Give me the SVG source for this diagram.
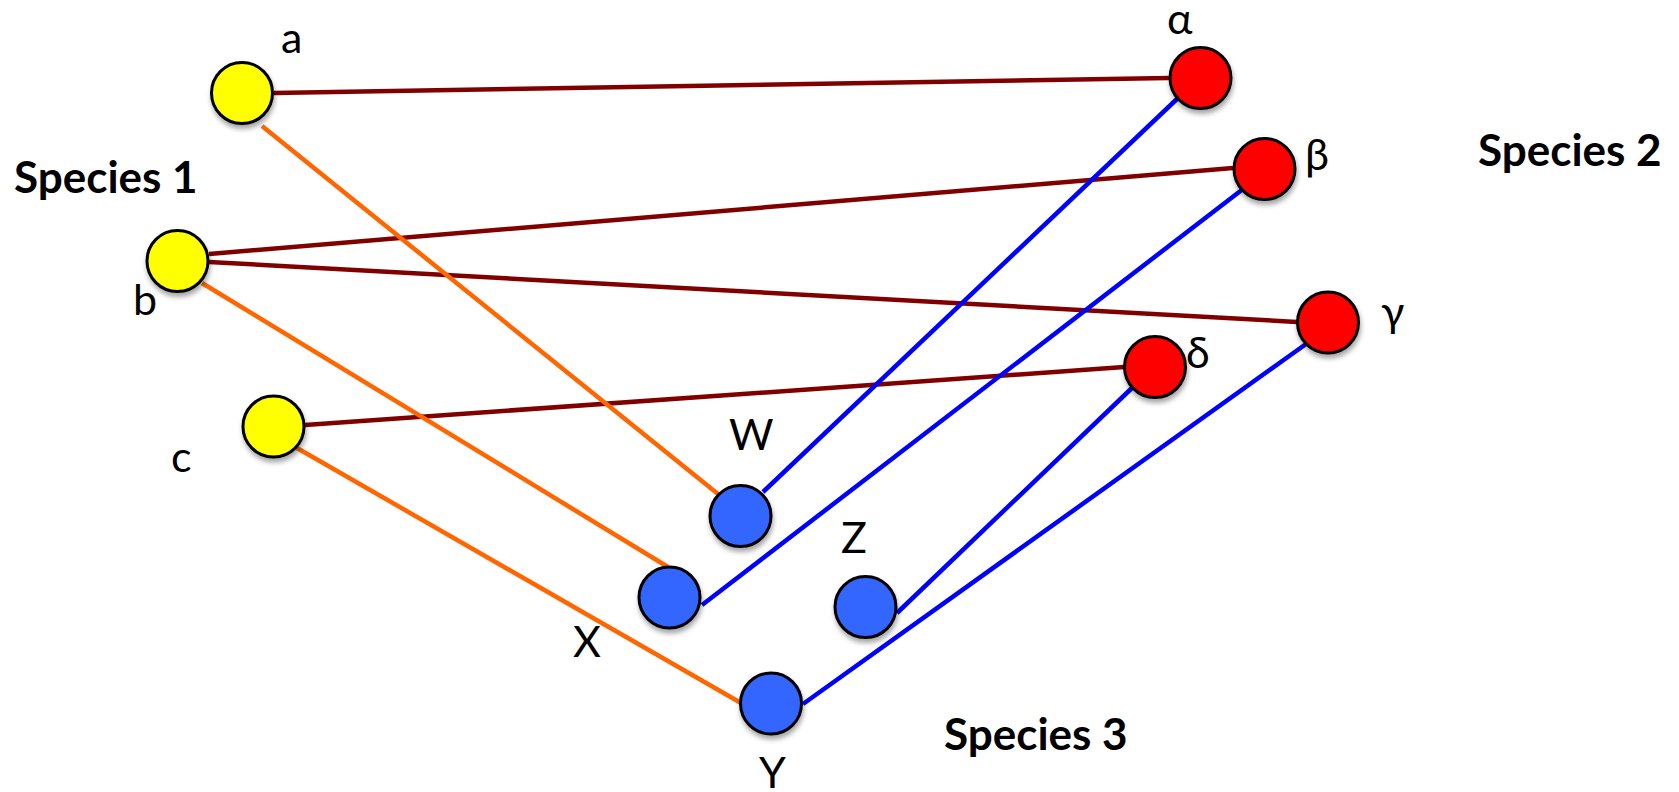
<svg xmlns="http://www.w3.org/2000/svg" width="1679" height="792" viewBox="0 0 1679 792">
  <defs>
    <filter id="shadow" x="-30%" y="-30%" width="160%" height="170%">
      <feDropShadow dx="1" dy="4" stdDeviation="2.5" flood-color="#000" flood-opacity="0.35"/>
    </filter>
  </defs>
  <style>
    .node { stroke: #000; stroke-width: 3; filter: url(#shadow); }
    .s1 { fill: #FFFF00; }
    .s2 { fill: #FF0000; }
    .s3 { fill: #3366FF; }
    .lbl { font-family: Lato, "Liberation Sans", sans-serif; font-size: 43px; fill: #000; }
    .title { font-family: Lato, "Liberation Sans", sans-serif; font-size: 44px; font-weight: bold; fill: #000; }
    .edge { fill: none; stroke-width: 4.5; stroke-linecap: butt; }
    .e12 { stroke: #800000; }
    .e13 { stroke: #FF6600; }
    .e23 { stroke: #0000FF; }
  </style>

  <!-- connectors -->
  <g id="connectors">
    <line class="edge e12" x1="274" y1="93" x2="1169" y2="78"/>
    <line class="edge e12" x1="209" y1="254" x2="1233" y2="168"/>
    <line class="edge e12" x1="209" y1="262" x2="1297" y2="322"/>
    <line class="edge e12" x1="305" y1="425" x2="1124" y2="367"/>
    <line class="edge e13" x1="262" y1="126" x2="718" y2="494"/>
    <line class="edge e13" x1="202" y1="283" x2="668" y2="567"/>
    <line class="edge e13" x1="297" y1="448" x2="741" y2="703"/>
    <line class="edge e23" x1="763" y1="492" x2="1178" y2="98"/>
    <line class="edge e23" x1="702" y1="605" x2="1243" y2="189"/>
    <line class="edge e23" x1="897" y1="613" x2="1133" y2="387"/>
    <line class="edge e23" x1="803" y1="704" x2="1306" y2="344"/>
  </g>

  <!-- species 1 -->
  <g id="node-a">
    <circle class="node s1" cx="242" cy="93" r="30.5"/>
    <text class="lbl" x="281" y="53">a</text>
  </g>
  <g id="node-b">
    <circle class="node s1" cx="177.5" cy="261" r="30.5"/>
    <text class="lbl" x="133" y="315">b</text>
  </g>
  <g id="node-c">
    <circle class="node s1" cx="273.5" cy="426.5" r="30.5"/>
    <text class="lbl" x="171" y="472">c</text>
  </g>

  <!-- species 2 -->
  <g id="node-alpha">
    <circle class="node s2" cx="1200.5" cy="78" r="30.5"/>
    <text class="lbl" x="1167" y="34">α</text>
  </g>
  <g id="node-beta">
    <circle class="node s2" cx="1264.5" cy="169" r="30.5"/>
    <text class="lbl" x="1305" y="170">β</text>
  </g>
  <g id="node-gamma">
    <circle class="node s2" cx="1328" cy="322.5" r="30.5"/>
    <text class="lbl" x="1381" y="327">γ</text>
  </g>
  <g id="node-delta">
    <circle class="node s2" cx="1155" cy="367" r="30.5"/>
    <text class="lbl" x="1186" y="368">δ</text>
  </g>

  <!-- species 3 -->
  <g id="node-W">
    <circle class="node s3" cx="740.5" cy="516" r="30.5"/>
    <text class="lbl" x="729" y="450">W</text>
  </g>
  <g id="node-X">
    <circle class="node s3" cx="669.5" cy="597.5" r="30.5"/>
    <text class="lbl" x="573" y="657">X</text>
  </g>
  <g id="node-Z">
    <circle class="node s3" cx="865.5" cy="607" r="30.5"/>
    <text class="lbl" x="841" y="553">Z</text>
  </g>
  <g id="node-Y">
    <circle class="node s3" cx="771" cy="703.5" r="30.5"/>
    <text class="lbl" x="759" y="788">Y</text>
  </g>

  <!-- group titles -->
  <g id="titles">
    <text class="title" x="14" y="193">Species 1</text>
    <text class="title" x="1478" y="166">Species 2</text>
    <text class="title" x="944" y="750">Species 3</text>
  </g>
</svg>
